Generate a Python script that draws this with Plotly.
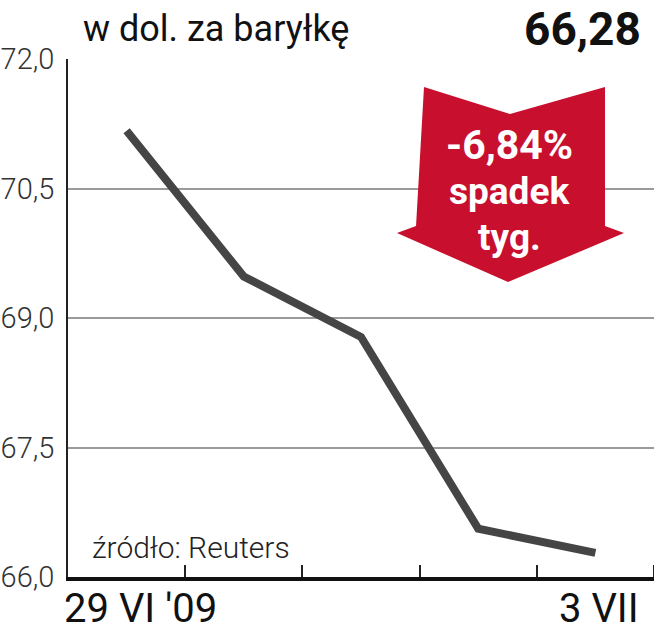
import plotly.graph_objects as go

# Ropa naftowa, cena za baryłkę (USD), ostatni tydzień
days = ["29 VI '09", "30 VI", "1 VII", "2 VII", "3 VII"]
prices = [71.17, 69.48, 68.78, 66.56, 66.28]
y_ticks = [66.0, 67.5, 69.0, 70.5, 72.0]
arrow_lines = ["-6,84%", "spadek", "tyg."]

x_idx = list(range(len(days)))
last_price = f"{prices[-1]:.2f}".replace(".", ",")

fig = go.Figure()

# Main price line
fig.add_trace(go.Scatter(
    x=x_idx,
    y=prices,
    mode="lines",
    line=dict(color="#454545", width=8),
    hoverinfo="skip",
))

# Red arrow in the top right corner (paper coordinates)
fig.add_shape(
    type="path",
    xref="paper", yref="paper",
    path="M 0.6075 0.9459 L 0.7543 0.8938 L 0.9164 0.9459 L 0.9164 0.6776 "
         "L 0.9488 0.6641 L 0.7509 0.5694 L 0.5614 0.6641 L 0.5939 0.6776 Z",
    fillcolor="#c8102e",
    line=dict(width=0),
    layer="above",
)

# Text inside the arrow, one annotation per line to keep the tight spacing
arrow_y = [0.834, 0.745, 0.656]
arrow_size = [41, 37, 37]
for txt, yy, sz in zip(arrow_lines, arrow_y, arrow_size):
    fig.add_annotation(
        xref="paper", yref="paper",
        x=0.754, y=yy,
        text=txt,
        showarrow=False,
        borderpad=0,
        font=dict(family="Roboto", size=sz, color="white", weight="bold"),
        xanchor="center", yanchor="middle",
    )

# Header: unit and latest value
fig.add_annotation(
    xref="paper", yref="paper",
    x=0.022, y=1.058,
    text="w dol. za baryłkę",
    showarrow=False,
    font=dict(family="Roboto", size=36, color="#111"),
    xanchor="left", yanchor="middle",
)
fig.add_annotation(
    xref="paper", yref="paper",
    x=0.982, y=1.058,
    text=f"<b>{last_price}</b>",
    showarrow=False,
    font=dict(family="Roboto", size=46, color="#111"),
    xanchor="right", yanchor="middle",
)

# Source note
fig.add_annotation(
    xref="paper", yref="paper",
    x=0.038, y=0.056,
    text="źródło: Reuters",
    showarrow=False,
    font=dict(family="Roboto", size=30, color="#222", weight=300),
    xanchor="left", yanchor="middle",
)

# Date labels: first one aligned to the left edge, last one to the right edge
fig.add_annotation(
    xref="paper", yref="paper",
    x=-0.01, y=-0.06,
    text=days[0],
    showarrow=False,
    font=dict(family="Roboto", size=40, color="#111"),
    xanchor="left", yanchor="middle",
)
fig.add_annotation(
    xref="paper", yref="paper",
    x=0.977, y=-0.06,
    text=days[-1],
    showarrow=False,
    font=dict(family="Roboto", size=40, color="#111"),
    xanchor="right", yanchor="middle",
)

fig.update_xaxes(
    range=[-0.5, len(days) - 0.5],
    showticklabels=False,
    ticks="",
    showgrid=False,
    zeroline=False,
    showline=True,
    linecolor="#111",
    linewidth=3.5,
    minor=dict(
        tickvals=[i + 0.5 for i in x_idx],
        ticks="inside",
        ticklen=12,
        tickwidth=2,
        tickcolor="#222",
        showgrid=False,
    ),
)

fig.update_yaxes(
    range=[y_ticks[0], y_ticks[-1]],
    tickvals=y_ticks,
    tickformat=".1f",
    ticks="",
    ticklabelstandoff=6,
    tickfont=dict(family="Roboto", size=29, color="#333", weight=300),
    showgrid=True,
    gridcolor="#9a9a9a",
    gridwidth=1.5,
    zeroline=False,
    showline=True,
    linecolor="#222",
    linewidth=1.5,
)

fig.update_layout(
    width=654,
    height=640,
    margin=dict(l=68, r=0, t=59, b=63),
    separators=",.",
    plot_bgcolor="white",
    paper_bgcolor="white",
    showlegend=False,
)

# drop the browser's default 8px body margin so the figure fills the window
fig.write_html(
    "out.html",
    config={"displayModeBar": False},
    post_script="document.body.style.margin='0';",
)
